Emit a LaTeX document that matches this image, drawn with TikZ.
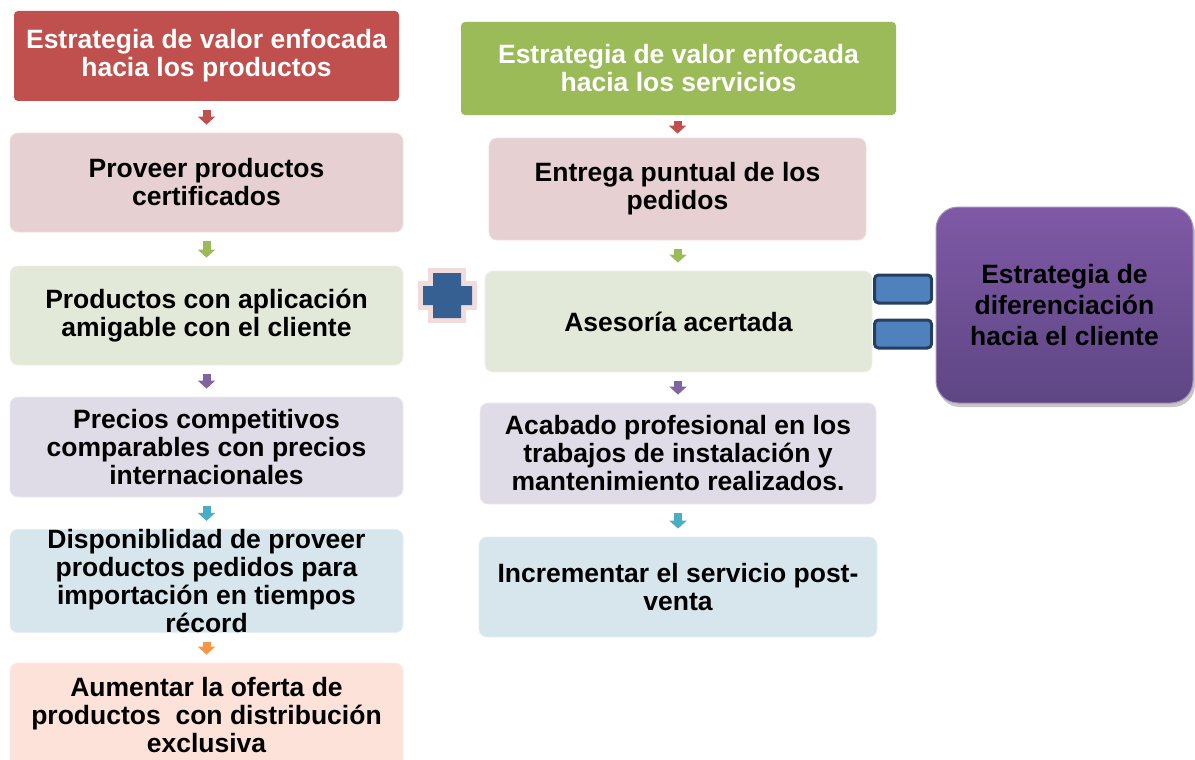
\documentclass[tikz,border=0pt]{standalone}
\usepackage{fontspec}
\setmainfont{Liberation Sans}
\usetikzlibrary{arrows.meta,shadows}

\definecolor{rojo}{HTML}{C0504D}
\definecolor{verde}{HTML}{9BBB59}
\definecolor{morado}{HTML}{8064A2}
\definecolor{celeste}{HTML}{4BACC6}
\definecolor{naranja}{HTML}{F79646}
\definecolor{rosaclaro}{HTML}{E6D0D1}
\definecolor{verdeclaro}{HTML}{E3E9D8}
\definecolor{moradoclaro}{HTML}{E0DCE7}
\definecolor{celesteclaro}{HTML}{D6E6EC}
\definecolor{naranjaclaro}{HTML}{FCE2D8}
\definecolor{azul}{HTML}{376092}
\definecolor{azulclaro}{HTML}{4F81BD}
\definecolor{azuloscuro}{HTML}{243F60}
\definecolor{rosado}{HTML}{F2DCDB}
\definecolor{moradoalto}{HTML}{7F59A6}
\definecolor{moradobajo}{HTML}{5E4684}

\tikzset{
  texto/.style={font=\bfseries\fontsize{26.5}{28}\selectfont, align=center, inner sep=0pt},
  encabezado/.style={texto, rounded corners=4pt, text=white},
  caja/.style={texto, rounded corners=8pt, draw=white!35!#1, fill=#1, line width=0.8pt},
  flecha/.style={line width=8pt, draw=#1, -{Triangle[width=17pt,length=8pt]},
    shorten >=8pt, shorten <=9pt},
  igual/.style={draw=azuloscuro, fill=azulclaro, line width=3pt, rounded corners=4pt,
    minimum width=57pt, minimum height=28pt, inner sep=0pt}
}

\begin{document}
\begin{tikzpicture}[x=1pt, y=-1pt]
  \useasboundingbox (0,0) rectangle (1195,760);

  % Columna de los productos
  \node[encabezado, fill=rojo, minimum width=385pt, minimum height=90pt] (p0) at (206.5,56)
    {Estrategia de valor enfocada\\hacia los productos};
  \node[caja=rosaclaro, minimum width=393pt, minimum height=99pt] (p1) at (206.5,182.5)
    {Proveer productos\\certificados};
  \node[caja=verdeclaro, minimum width=393pt, minimum height=99pt] (p2) at (206.5,315.5)
    {Productos con aplicación\\amigable con el cliente};
  \node[caja=moradoclaro, minimum width=393pt, minimum height=100pt] (p3) at (206.5,447)
    {Precios competitivos\\comparables con precios\\internacionales};
  \node[caja=celesteclaro, minimum width=393pt, minimum height=100pt] (p4) at (206.5,581)
    {Disponiblidad de proveer\\productos pedidos para\\importación en tiempos\\récord};
  \node[caja=naranjaclaro, minimum width=393pt, minimum height=104pt] (p5) at (206.5,715)
    {Aumentar la oferta de\\productos\ \ con distribución\\exclusiva};

  \draw[flecha=rojo] (p0.south) -- (p0.south |- p1.north);
  \draw[flecha=verde] (p1) -- (p2);
  \draw[flecha=morado] (p2) -- (p3);
  \draw[flecha=celeste] (p3) -- (p4);
  \draw[flecha=naranja] (p4) -- (p5);

  % Columna de los servicios
  \node[encabezado, fill=verde, minimum width=435pt, minimum height=93pt] (s0) at (678.5,68.5)
    {Estrategia de valor enfocada\\hacia los servicios};
  \node[caja=rosaclaro, minimum width=377pt, minimum height=102pt] (s1) at (677.5,189)
    {Entrega puntual de los\\pedidos};
  \node[caja=verdeclaro, minimum width=387pt, minimum height=101pt] (s2) at (678.5,321.5)
    {Asesoría acertada};
  \node[caja=moradoclaro, minimum width=396pt, minimum height=101pt] (s3) at (678,453.5)
    {Acabado profesional en los\\trabajos de instalación y\\mantenimiento realizados.};
  \node[caja=celesteclaro, minimum width=398pt, minimum height=100pt] (s4) at (678,587)
    {Incrementar el servicio post-\\venta};

  \draw[flecha=rojo, shorten >=4pt, shorten <=6pt] (s0.south -| s1.north) -- (s1.north);
  \draw[flecha=verde] (s1.south -| 678,0) -- (s2.north -| 678,0);
  \draw[flecha=morado] (s2.south -| 678,0) -- (s3.north -| 678,0);
  \draw[flecha=celeste] (s3.south) -- (s4.north);

  % Signo mas
  \path[fill=azul, preaction={draw=rosado, line width=10pt}]
    (433,273) -- (461,273) -- (461,286) -- (472,286) -- (472,305) -- (461,305)
    -- (461,318) -- (433,318) -- (433,305) -- (423,305) -- (423,286) -- (433,286) -- cycle;

  % Signo igual
  \node[igual] (i1) at (903,289) {};
  \node[igual] (i2) at (903,334) {};

  % Resultado
  \node[texto, rounded corners=22pt, top color=moradoalto, bottom color=moradobajo,
    draw=morado!70!white, line width=1pt, minimum width=257pt, minimum height=196pt,
    font=\bfseries\fontsize{26.5}{31}\selectfont,
    drop shadow={shadow xshift=2pt, shadow yshift=-4pt, opacity=.45}] (d) at (1064.5,305)
    {Estrategia de\\diferenciación\\hacia el cliente};
\end{tikzpicture}
\end{document}
